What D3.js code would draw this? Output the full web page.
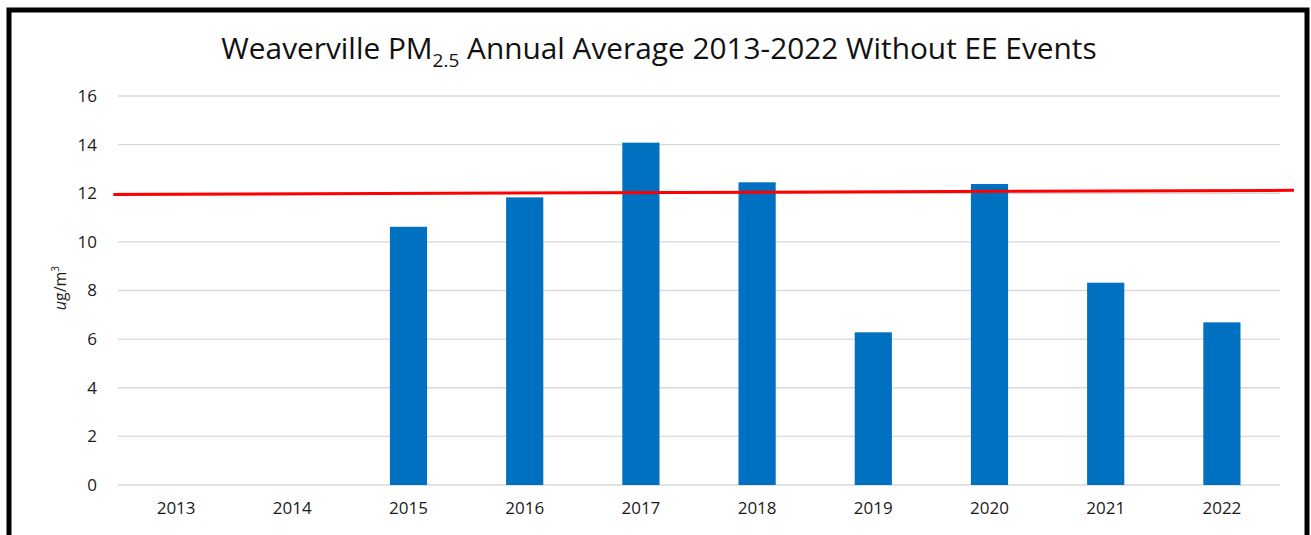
<!DOCTYPE html>
<html>
<head>
<meta charset="utf-8">
<script src="https://cdn.jsdelivr.net/npm/d3@7"></script>
<style>
  body { margin: 0; background: #fff; }
  text { font-family: "Open Sans", sans-serif; fill: #222; }
</style>
</head>
<body>
<div class="chart"></div>
<script>
(() => {
var years = ['2013', '2014', '2015', '2016', '2017', '2018', '2019', '2020', '2021', '2022'];
var pm25 = [null, null, 10.62, 11.83, 14.08, 12.45, 6.28, 12.38, 8.32, 6.69];
var yTicks = [0, 2, 4, 6, 8, 10, 12, 14, 16];
// standard line, drawn a little past the plot on both sides
var standardPos = [-0.04, 10.12];
var standardVal = [11.95, 12.12];

var width = 1311,
    height = 535,
    margin = {top: 96, right: 31, bottom: 50, left: 118};

var svg = d3.select('div.chart')
    .append('svg')
        .attr('width', width)
        .attr('height', height);

// frame
svg.append('rect')
    .attr('x', 9)
    .attr('y', 10)
    .attr('width', 1298)
    .attr('height', 540)
    .style('fill', 'none')
    .style('stroke', '#000')
    .style('stroke-width', 5);

var x = d3.scaleBand()
    .domain(years)
    .range([margin.left, width - margin.right])
    .paddingInner(0.68)
    .paddingOuter(0.34);

var y = d3.scaleLinear()
    .domain([0, 16])
    .range([height - margin.bottom, margin.top]);

var xPos = d3.scaleLinear()
    .domain([0, years.length])
    .range([margin.left, width - margin.right]);

// gridlines
svg.append('g')
    .selectAll('line')
    .data(yTicks)
    .enter()
    .append('line')
        .attr('x1', margin.left)
        .attr('x2', width - margin.right)
        .attr('y1', (d) => y(d))
        .attr('y2', (d) => y(d))
        .style('stroke', '#d9d9d9')
        .style('stroke-width', 1.3);

var yAxis = svg.append('g')
    .attr('transform', 'translate(' + (margin.left - 21) + ',0)')
    .call(d3.axisLeft(y).tickValues(yTicks).tickSize(0).tickPadding(0));
yAxis.select('.domain').remove();
yAxis.selectAll('text')
    .style('font-size', '17px')
    .style('font-family', '"Open Sans", sans-serif')
    .style('fill', '#1a1a1a');

var xAxis = svg.append('g')
    .attr('transform', 'translate(0,' + (height - margin.bottom + 17) + ')')
    .call(d3.axisBottom(x).tickSize(0).tickPadding(0));
xAxis.select('.domain').remove();
xAxis.selectAll('text')
    .style('font-size', '17px')
    .style('font-family', '"Open Sans", sans-serif')
    .style('fill', '#1a1a1a');

// bars
svg.append('g')
    .selectAll('rect')
    .data(years.map((d, i) => ({year: d, value: pm25[i]})).filter((d) => d.value != null))
    .enter()
    .append('rect')
        .attr('x', (d) => x(d.year))
        .attr('width', x.bandwidth())
        .attr('y', (d) => y(d.value))
        .attr('height', (d) => y(0) - y(d.value))
        .style('fill', '#0070c0');

// standard line
svg.append('line')
    .attr('x1', xPos(standardPos[0]))
    .attr('x2', xPos(standardPos[1]))
    .attr('y1', y(standardVal[0]))
    .attr('y2', y(standardVal[1]))
    .style('stroke', '#ff0000')
    .style('stroke-width', 3);

// title
var title = svg.append('text')
    .attr('x', 659)
    .attr('y', 59)
    .attr('text-anchor', 'middle')
    .style('font-size', '29.8px')
    .style('fill', '#111');
title.append('tspan').text('Weaverville PM');
title.append('tspan').attr('dy', 8).style('font-size', '19px').text('2.5');
title.append('tspan').attr('dy', -8).text(' Annual Average 2013-2022 Without EE Events');

// y label
var ylab = svg.append('text')
    .attr('transform', 'translate(66,' + y(8.1) + ') rotate(-90)')
    .attr('text-anchor', 'middle')
    .style('font-size', '16px');
ylab.append('tspan').style('font-style', 'italic').text('u');
ylab.append('tspan').text('g/m');
ylab.append('tspan').attr('dy', -7).style('font-size', '10px').text('3');
})();
</script>
</body>
</html>
